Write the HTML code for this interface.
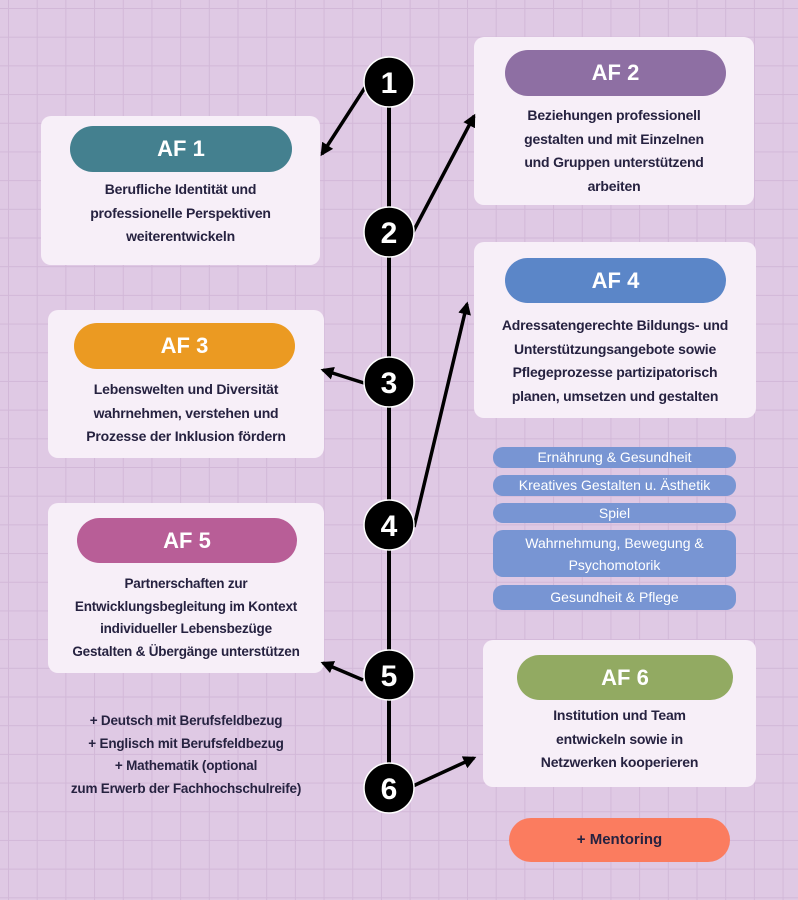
<!DOCTYPE html>
<html><head><meta charset="utf-8"><style>
body{margin:0;width:798px;height:900px;overflow:hidden;font-family:"Liberation Sans",sans-serif;font-weight:bold;
background-color:#dfc9e4;
background-image:linear-gradient(#d2b8d8 1px,transparent 1px),linear-gradient(90deg,#d2b8d8 1px,transparent 1px);
background-size:28.7px 28.7px;background-position:8px 8px;position:relative}
.box{position:absolute;background:#f7eff8;border-radius:10px}
.pill{position:absolute;border-radius:24px;color:#fff;font-size:22px;text-align:center;font-weight:bold}
.t{position:absolute;text-align:center;color:#262240;font-size:14px;line-height:23.5px;letter-spacing:-0.2px}
.chip{position:absolute;left:493px;width:243px;background:#7895d3;color:#fff;border-radius:10px;font-size:14px;text-align:center;font-weight:normal}
svg{position:absolute;left:0;top:0}
</style></head><body>
<div class="box" style="left:41px;top:116px;width:279px;height:149px"></div>
<div class="pill" style="left:70px;top:126px;width:222px;height:46px;line-height:46px;background:#44808f">AF 1</div>
<div class="t" style="left:41px;top:178px;width:279px">Berufliche Identität und<br>professionelle Perspektiven<br>weiterentwickeln</div>

<div class="box" style="left:474px;top:37px;width:280px;height:168px"></div>
<div class="pill" style="left:505px;top:50px;width:221px;height:46px;line-height:46px;background:#8e6fa3">AF 2</div>
<div class="t" style="left:474px;top:104px;width:280px">Beziehungen professionell<br>gestalten und mit Einzelnen<br>und Gruppen unterstützend<br>arbeiten</div>

<div class="box" style="left:48px;top:310px;width:276px;height:148px"></div>
<div class="pill" style="left:74px;top:323px;width:221px;height:46px;line-height:46px;background:#eb9a22">AF 3</div>
<div class="t" style="left:48px;top:378px;width:276px">Lebenswelten und Diversität<br>wahrnehmen, verstehen und<br>Prozesse der Inklusion fördern</div>

<div class="box" style="left:474px;top:242px;width:282px;height:176px"></div>
<div class="pill" style="left:505px;top:258px;width:221px;height:45px;line-height:45px;background:#5b86c8">AF 4</div>
<div class="t" style="left:474px;top:314px;width:282px">Adressatengerechte Bildungs- und<br>Unterstützungsangebote sowie<br>Pflegeprozesse partizipatorisch<br>planen, umsetzen und gestalten</div>

<div class="chip" style="top:447px;height:21px;line-height:21px">Ernährung &amp; Gesundheit</div>
<div class="chip" style="top:475px;height:21px;line-height:21px">Kreatives Gestalten u. Ästhetik</div>
<div class="chip" style="top:503px;height:20px;line-height:20px">Spiel</div>
<div class="chip" style="top:530px;height:47px;line-height:22px;padding-top:2px;box-sizing:border-box">Wahrnehmung, Bewegung &amp;<br>Psychomotorik</div>
<div class="chip" style="top:585px;height:25px;line-height:25px">Gesundheit &amp; Pflege</div>

<div class="box" style="left:48px;top:503px;width:276px;height:170px"></div>
<div class="pill" style="left:77px;top:518px;width:220px;height:45px;line-height:45px;background:#b85e97">AF 5</div>
<div class="t" style="left:48px;top:573px;width:276px;line-height:22.5px;font-size:13.5px">Partnerschaften zur<br>Entwicklungsbegleitung im Kontext<br>individueller Lebensbezüge<br>Gestalten &amp; Übergänge unterstützen</div>

<div class="box" style="left:483px;top:640px;width:273px;height:147px"></div>
<div class="pill" style="left:517px;top:655px;width:216px;height:45px;line-height:45px;background:#92aa62">AF 6</div>
<div class="t" style="left:483px;top:704px;width:273px">Institution und Team<br>entwickeln sowie in<br>Netzwerken kooperieren</div>

<div class="t" style="left:36px;top:710px;width:300px;font-size:13.5px;line-height:22.7px">+ Deutsch mit Berufsfeldbezug<br>+ Englisch mit Berufsfeldbezug<br>+ Mathematik (optional<br>zum Erwerb der Fachhochschulreife)</div>

<div class="pill" style="left:509px;top:818px;width:221px;height:44px;line-height:44px;background:#fb7c5f;color:#262240;font-size:15px">+ Mentoring</div>

<svg width="798" height="900">
<defs><marker id="a" viewBox="0 0 10 10" markerWidth="13" markerHeight="13" refX="8" refY="5" orient="auto" markerUnits="userSpaceOnUse"><path d="M0,0 L10,5 L0,10 Z" fill="#000"/></marker></defs>
<line x1="389" y1="82" x2="389" y2="788" stroke="#000" stroke-width="4"/>
<g stroke="#000" stroke-width="3.5" fill="none" marker-end="url(#a)">
<line x1="366" y1="86" x2="322" y2="154"/>
<line x1="413" y1="232" x2="474" y2="116"/>
<line x1="364" y1="383" x2="323" y2="370"/>
<line x1="414" y1="527" x2="467" y2="304"/>
<line x1="363" y1="680" x2="323" y2="663"/>
<line x1="413" y1="786" x2="474" y2="758"/>
</g>
<g fill="#000" stroke="#fff" stroke-width="1.5">
<circle cx="389" cy="82" r="25"/><circle cx="389" cy="232" r="25"/><circle cx="389" cy="382" r="25"/>
<circle cx="389" cy="525" r="25"/><circle cx="389" cy="675" r="25"/><circle cx="389" cy="788" r="25"/>
</g>
<g fill="#fff" font-family="Liberation Sans,sans-serif" font-weight="bold" font-size="30" text-anchor="middle">
<text x="389" y="93">1</text><text x="389" y="243">2</text><text x="389" y="393">3</text>
<text x="389" y="536">4</text><text x="389" y="686">5</text><text x="389" y="799">6</text>
</g>
</svg>
</body></html>
